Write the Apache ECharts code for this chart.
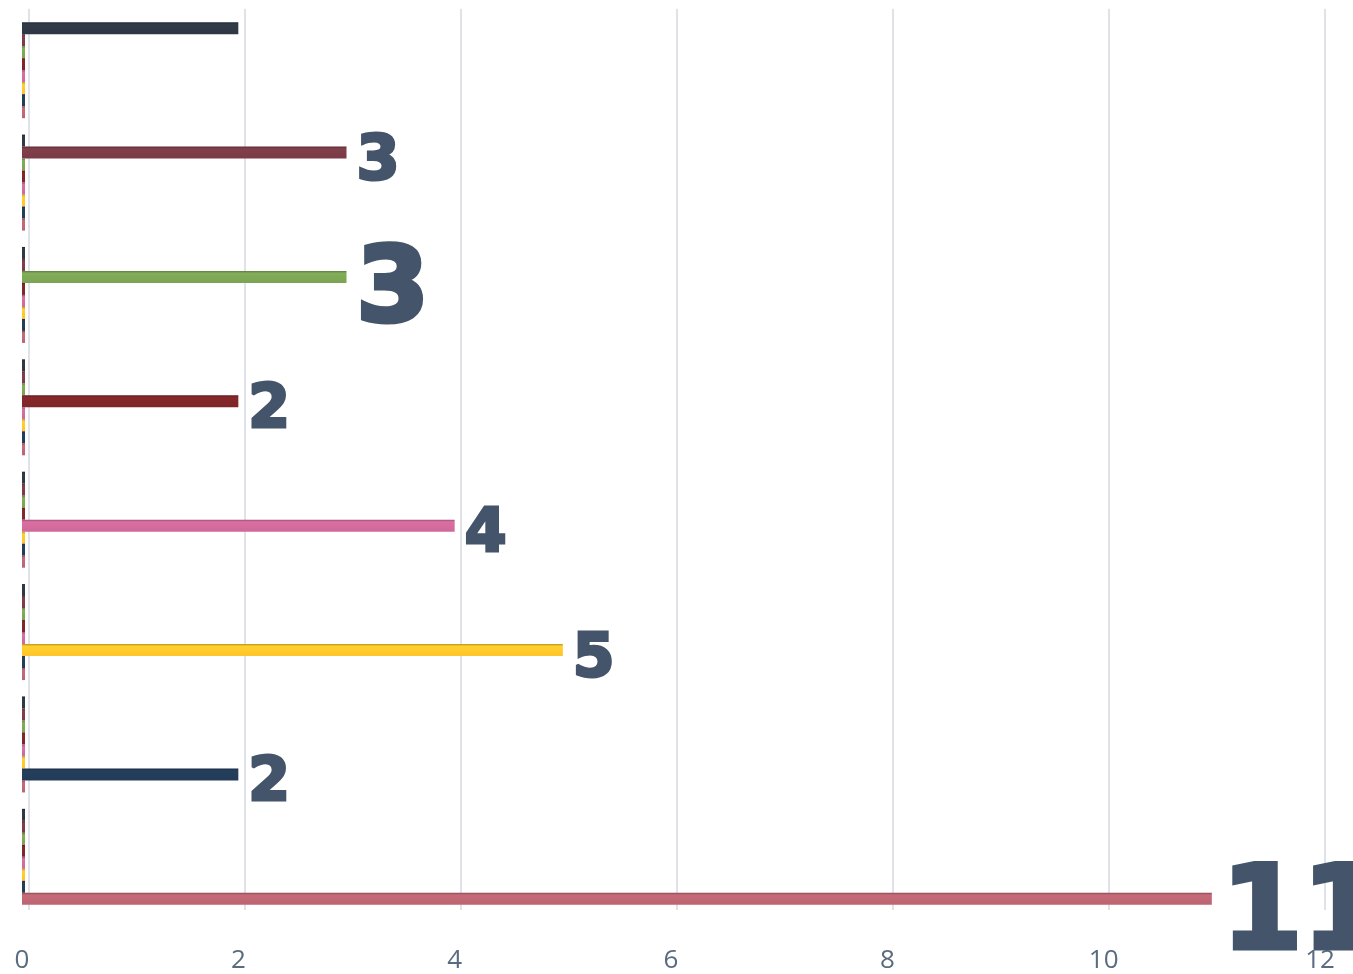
<!DOCTYPE html>
<html>
<head>
<meta charset="utf-8">
<script src="https://cdn.jsdelivr.net/npm/echarts@6/dist/echarts.min.js"></script>
<style>
html,body{margin:0;padding:0;background:#fff;}
#chart{width:1353px;height:974px;}
</style>
</head>
<body>
<div id="chart"></div>
<script>
// ---- data ----
const categories = ['1', '2', '3', '4', '5', '6', '7', '8'];
const seriesNames = ['S1', 'S2', 'S3', 'S4', 'S5', 'S6', 'S7', 'S8'];
const s1 = [11, 0, 0, 0, 0, 0, 0, 0];
const s2 = [0, 2, 0, 0, 0, 0, 0, 0];
const s3 = [0, 0, 5, 0, 0, 0, 0, 0];
const s4 = [0, 0, 0, 4, 0, 0, 0, 0];
const s5 = [0, 0, 0, 0, 2, 0, 0, 0];
const s6 = [0, 0, 0, 0, 0, 3, 0, 0];
const s7 = [0, 0, 0, 0, 0, 0, 3, 0];
const s8 = [0, 0, 0, 0, 0, 0, 0, 2];
const xTicks = [0, 2, 4, 6, 8, 10, 12];

// ---- style (not data) ----
const colors = ['#BB6471', '#223B58', '#FFC42B', '#CF6899', '#7E2529', '#7BA353', '#7A3B46', '#2E3743'];
const labelSizes = [116, 60, 60, 60, 60, 104, 62, 0]; // 0 = no label

const allValues = [s1, s2, s3, s4, s5, s6, s7, s8];

function shade(hex, f) {
  const n = parseInt(hex.slice(1), 16);
  let r = (n >> 16) & 255, g = (n >> 8) & 255, b = n & 255;
  r = Math.round(r * f); g = Math.round(g * f); b = Math.round(b * f);
  const c = v => Math.max(0, Math.min(255, v)).toString(16).padStart(2, '0');
  return '#' + c(r) + c(g) + c(b);
}

const series = allValues.map((vals, si) => {
  const fs = labelSizes[si] || 12;
  return {
    name: seriesNames[si],
    type: 'bar',
    xAxisIndex: 0,
    yAxisIndex: 0,
    barWidth: 12,
    barGap: '0%',
    barMinHeight: 3,
    itemStyle: {
      color: {
        type: 'linear', x: 0, y: 0, x2: 0, y2: 1,
        colorStops: [
          { offset: 0, color: shade(colors[si], 0.75) },
          { offset: 0.18, color: shade(colors[si], 1.06) },
          { offset: 1, color: colors[si] }
        ]
      }
    },
    data: vals.map((v, ci) => ({
      value: v,
      label: {
        show: v !== 0 && labelSizes[si] > 0,
        position: 'right',
        distance: 10,
        offset: [0, Math.round(fs * 0.16)],
        formatter: '{c}',
        color: '#44546A',
        fontFamily: 'DejaVu Sans',
        fontWeight: 'bold',
        fontSize: fs,
        textBorderColor: '#44546A',
        textBorderWidth: Math.round(fs / 22)
      }
    }))
  };
}).reverse(); // first series drawn at the top of each group; reverse so S1 sits at the bottom

const chart = echarts.init(document.getElementById('chart'), null, { renderer: 'canvas' });
chart.setOption({
  animation: false,
  backgroundColor: '#ffffff',
  grid: [
    { left: 22, right: 33, top: 14, bottom: 60, containLabel: false },
    { left: 29, right: 28, top: 9, bottom: 64, containLabel: false }
  ],
  xAxis: [
    {
      type: 'value', gridIndex: 0, min: 0, max: 12, interval: 2,
      axisLine: { show: false },
      axisTick: { show: false },
      splitLine: { show: false },
      axisLabel: {
        color: '#5A6B80', fontSize: 26, fontFamily: 'Open Sans', margin: 35,
        formatter: v => xTicks.includes(v) ? String(v) : ''
      }
    },
    {
      type: 'value', gridIndex: 1, min: 0, max: 12, interval: 2,
      axisLine: { show: false },
      axisTick: { show: false },
      axisLabel: { show: false },
      splitLine: { show: true, lineStyle: { color: '#DFE2E9', width: 2 } }
    }
  ],
  yAxis: [
    {
      type: 'category', gridIndex: 0, data: categories,
      axisLine: { show: false }, axisTick: { show: false }, axisLabel: { show: false },
      splitLine: { show: false }
    },
    {
      type: 'category', gridIndex: 1, data: categories,
      axisLine: { show: false }, axisTick: { show: false }, axisLabel: { show: false },
      splitLine: { show: false }
    }
  ],
  series: series
});
</script>
</body>
</html>
